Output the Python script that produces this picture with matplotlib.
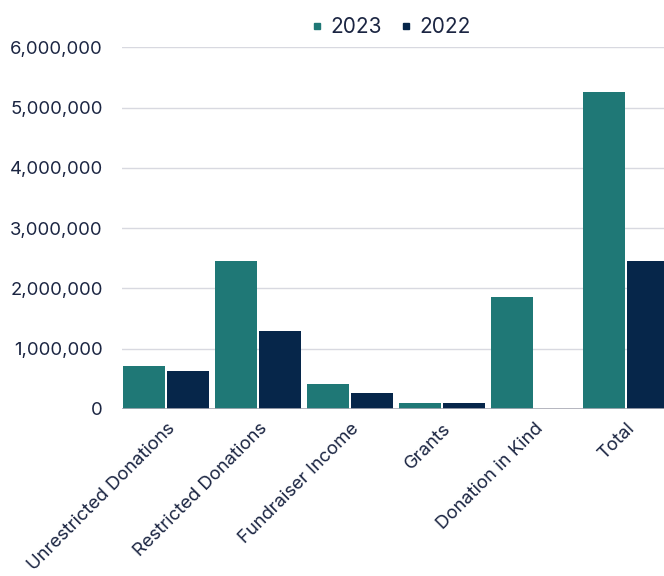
import numpy as np
import matplotlib.pyplot as plt
from matplotlib.lines import Line2D
from matplotlib.ticker import FuncFormatter

categories = ['Unrestricted Donations', 'Restricted Donations', 'Fundraiser Income',
              'Grants', 'Donation in Kind', 'Total']
values_2023 = [715000, 2450000, 415000, 100000, 1855000, 5265000]
values_2022 = [630000, 1290000, 265000, 95000, 0, 2450000]

TEAL = '#1f7876'
NAVY = '#06264a'
TEXT = '#1b2542'

plt.rcParams['font.family'] = ['Inter', 'DejaVu Sans']

fig = plt.figure(figsize=(6.64, 5.76), dpi=100)
ax = fig.add_axes([0.184, 0.290, 0.816, 0.628])

x = np.arange(len(categories))
w = 0.457
ax.bar(x - w / 2 - 0.011, values_2023, w, color=TEAL, zorder=3)
ax.bar(x + w / 2 + 0.011, values_2022, w, color=NAVY, zorder=3)

ax.set_xlim(-0.48, 5.41)
ax.set_ylim(0, 6000000)
ax.set_yticks(np.arange(0, 6000001, 1000000))
ax.yaxis.set_major_formatter(FuncFormatter(lambda v, _: f'{int(v):,}'))
ax.grid(True, axis='y', color='#d8d9e0', linewidth=1, zorder=0)
ax.axhline(0, color='#a9abb5', linewidth=1.2, zorder=4)
for s in ax.spines.values():
    s.set_visible(False)
ax.tick_params(axis='both', length=0, labelsize=13.3, colors=TEXT)
ax.tick_params(axis='y', pad=14)
ax.set_xticks(x)
ax.set_xticklabels(categories, rotation=45, ha='right', rotation_mode='anchor')
ax.tick_params(axis='x', pad=8)

handles = [Line2D([], [], marker='s', linestyle='', color=TEAL, markersize=5),
           Line2D([], [], marker='s', linestyle='', color=NAVY, markersize=5)]
fig.legend(handles, ['2023', '2022'], loc='center', bbox_to_anchor=(0.59, 0.953),
           ncol=2, frameon=False, fontsize=15, labelcolor=TEXT,
           handlelength=0.4, handletextpad=0.4, columnspacing=1.0)

plt.savefig('out.png', dpi=100)
